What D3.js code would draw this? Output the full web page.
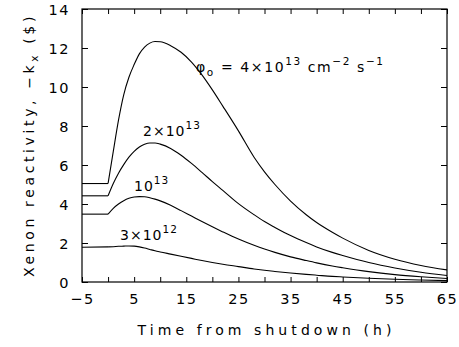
<!DOCTYPE html>
<html>
<head>
<meta charset="utf-8">
<script src="https://cdn.jsdelivr.net/npm/d3@7"></script>
<style>
  html, body { margin: 0; padding: 0; background: #fff; }
  svg { display: block; }
  text { font-family: "DejaVu Sans", "Liberation Sans", sans-serif; fill: #000; }
</style>
</head>
<body>
<svg id="chart" width="459" height="347"></svg>
<script>
// ---- data ----
const times = [-5, 0, 1, 2, 3, 4, 5, 6, 7, 8, 9, 10, 12, 14, 16, 18, 20, 22, 25, 28, 30, 32, 35, 38, 40, 43, 45, 50, 55, 60, 65];
const flux4e13 = [5.05, 5.05, 6.7, 8.3, 9.6, 10.5, 11.15, 11.7, 12.05, 12.25, 12.33, 12.32, 12.12, 11.78, 11.28, 10.62, 9.85, 9.02, 7.75, 6.4, 5.65, 5.0, 4.15, 3.45, 3.05, 2.55, 2.25, 1.62, 1.17, 0.85, 0.62];
const flux2e13 = [4.42, 4.42, 5.05, 5.58, 6.02, 6.4, 6.7, 6.92, 7.06, 7.13, 7.13, 7.07, 6.85, 6.5, 6.08, 5.62, 5.15, 4.7, 4.02, 3.45, 3.1, 2.8, 2.38, 2.02, 1.8, 1.52, 1.36, 1.0, 0.72, 0.5, 0.33];
const flux1e13 = [3.48, 3.48, 3.78, 4.0, 4.17, 4.29, 4.36, 4.38, 4.37, 4.32, 4.25, 4.16, 3.93, 3.66, 3.38, 3.1, 2.83, 2.57, 2.2, 1.88, 1.69, 1.52, 1.29, 1.1, 0.98, 0.82, 0.73, 0.53, 0.38, 0.27, 0.18];
const flux3e12 = [1.78, 1.8, 1.81, 1.83, 1.84, 1.85, 1.84, 1.8, 1.74, 1.67, 1.6, 1.54, 1.43, 1.32, 1.21, 1.1, 1.0, 0.91, 0.79, 0.67, 0.6, 0.54, 0.46, 0.39, 0.35, 0.29, 0.26, 0.19, 0.14, 0.1, 0.07];
const seriesList = [flux4e13, flux2e13, flux1e13, flux3e12];
const xTicks = [-5, 0, 5, 10, 15, 20, 25, 30, 35, 40, 45, 50, 55, 60, 65];
const xTickLabels = [-5, 5, 15, 25, 35, 45, 55, 65];
const yTicks = [0, 2, 4, 6, 8, 10, 12, 14];

// ---- layout ----
const svg = d3.select("#chart");
const L = 82, R = 447, T = 9, B = 282;
const x = d3.scaleLinear().domain([-5, 65]).range([L, R]);
const y = d3.scaleLinear().domain([0, 14]).range([B, T]);
const fmt = d => (d < 0 ? "\u2212" + Math.abs(d) : String(d));

// axes with inward ticks
const gx = svg.append("g").attr("transform", `translate(0,${B})`)
  .call(d3.axisBottom(x).tickValues(xTicks).tickSizeInner(-5).tickSizeOuter(0).tickPadding(12)
    .tickFormat(d => xTickLabels.includes(d) ? fmt(d) : ""));
const gxt = svg.append("g").attr("transform", `translate(0,${T})`)
  .call(d3.axisTop(x).tickValues(xTicks).tickSizeInner(-5).tickSizeOuter(0).tickFormat(""));
const gy = svg.append("g").attr("transform", `translate(${L},0)`)
  .call(d3.axisLeft(y).tickValues(yTicks).tickSizeInner(-6).tickSizeOuter(0).tickPadding(12).tickFormat(fmt));
const gyr = svg.append("g").attr("transform", `translate(${R},0)`)
  .call(d3.axisRight(y).tickValues(yTicks).tickSizeInner(-6).tickSizeOuter(0).tickFormat(""));
[gx, gxt, gy, gyr].forEach(g => {
  g.select(".domain").remove();
  g.selectAll(".tick line").attr("stroke", "#000").attr("stroke-width", 1);
  g.selectAll(".tick text").attr("font-size", 14.5).attr("letter-spacing", 1.5)
    .attr("font-family", "DejaVu Sans, sans-serif").attr("fill", "#000");
});
gy.selectAll(".tick text").attr("dy", "0.36em");

// frame
svg.append("rect").attr("x", L).attr("y", T).attr("width", R - L).attr("height", B - T)
  .attr("fill", "none").attr("stroke", "#000").attr("stroke-width", 1.2);

// curves: linear before shutdown, smooth after
const pre = d3.line().x(d => x(d[0])).y(d => y(d[1]));
const post = d3.line().x(d => x(d[0])).y(d => y(d[1])).curve(d3.curveMonotoneX);
seriesList.forEach(vals => {
  const pts = times.map((t, i) => [t, vals[i]]);
  const a = pts.filter(p => p[0] <= 0), b = pts.filter(p => p[0] >= 0);
  svg.append("path").attr("d", pre(a)).attr("fill", "none").attr("stroke", "#000").attr("stroke-width", 1.1);
  svg.append("path").attr("d", post(b)).attr("fill", "none").attr("stroke", "#000").attr("stroke-width", 1.1);
});

// curve labels
function label(xp, yp, parts, ls) {
  const t = svg.append("text").attr("x", xp).attr("y", yp).attr("font-size", 14).attr("letter-spacing", ls || 1);
  parts.forEach(p => {
    const s = t.append("tspan").text(p.t);
    if (p.sup) s.attr("font-size", 10.5).attr("dy", -7);
    if (p.sub) s.attr("font-size", 10.5).attr("dy", 4);
    if (p.back) s.attr("dy", p.back);
  });
  return t;
}
label(196, 72, [{t: "\u03C6"}, {t: "o", sub: true}, {t: " = 4\u00D710", back: -4}, {t: "13", sup: true},
  {t: " cm", back: 7}, {t: "\u22122", sup: true}, {t: " s", back: 7}, {t: "\u22121", sup: true}], 1.6);
label(143, 136, [{t: "2\u00D710"}, {t: "13", sup: true}]);
label(134, 191, [{t: "10"}, {t: "13", sup: true}]);
label(120, 240, [{t: "3\u00D710"}, {t: "12", sup: true}]);

// axis titles
function fitSpacing(sel, target) {
  sel.attr("letter-spacing", 0);
  const n = sel.text().length;
  const w = sel.node().getComputedTextLength();
  sel.attr("letter-spacing", (target - w) / n);
}
const xt = svg.append("text").attr("x", (L + R) / 2).attr("y", 335).attr("text-anchor", "middle")
  .attr("font-size", 14).text("Time from shutdown (h)");
fitSpacing(xt, 258);
xt.attr("x", (L + R) / 2 + parseFloat(xt.attr("letter-spacing")) / 2);

const yt = svg.append("text").attr("transform", "translate(34,145) rotate(-90)").attr("text-anchor", "middle")
  .attr("font-size", 14);
yt.append("tspan").text("Xenon reactivity, \u2212k");
yt.append("tspan").text("x").attr("font-size", 10.5).attr("dy", 4);
yt.append("tspan").text(" ($)").attr("dy", -4);
{
  yt.attr("letter-spacing", 0);
  const w = yt.node().getComputedTextLength();
  const n = "Xenon reactivity, \u2212kx ($)".length;
  yt.attr("letter-spacing", (264 - w) / n);
}
</script>
</body>
</html>
